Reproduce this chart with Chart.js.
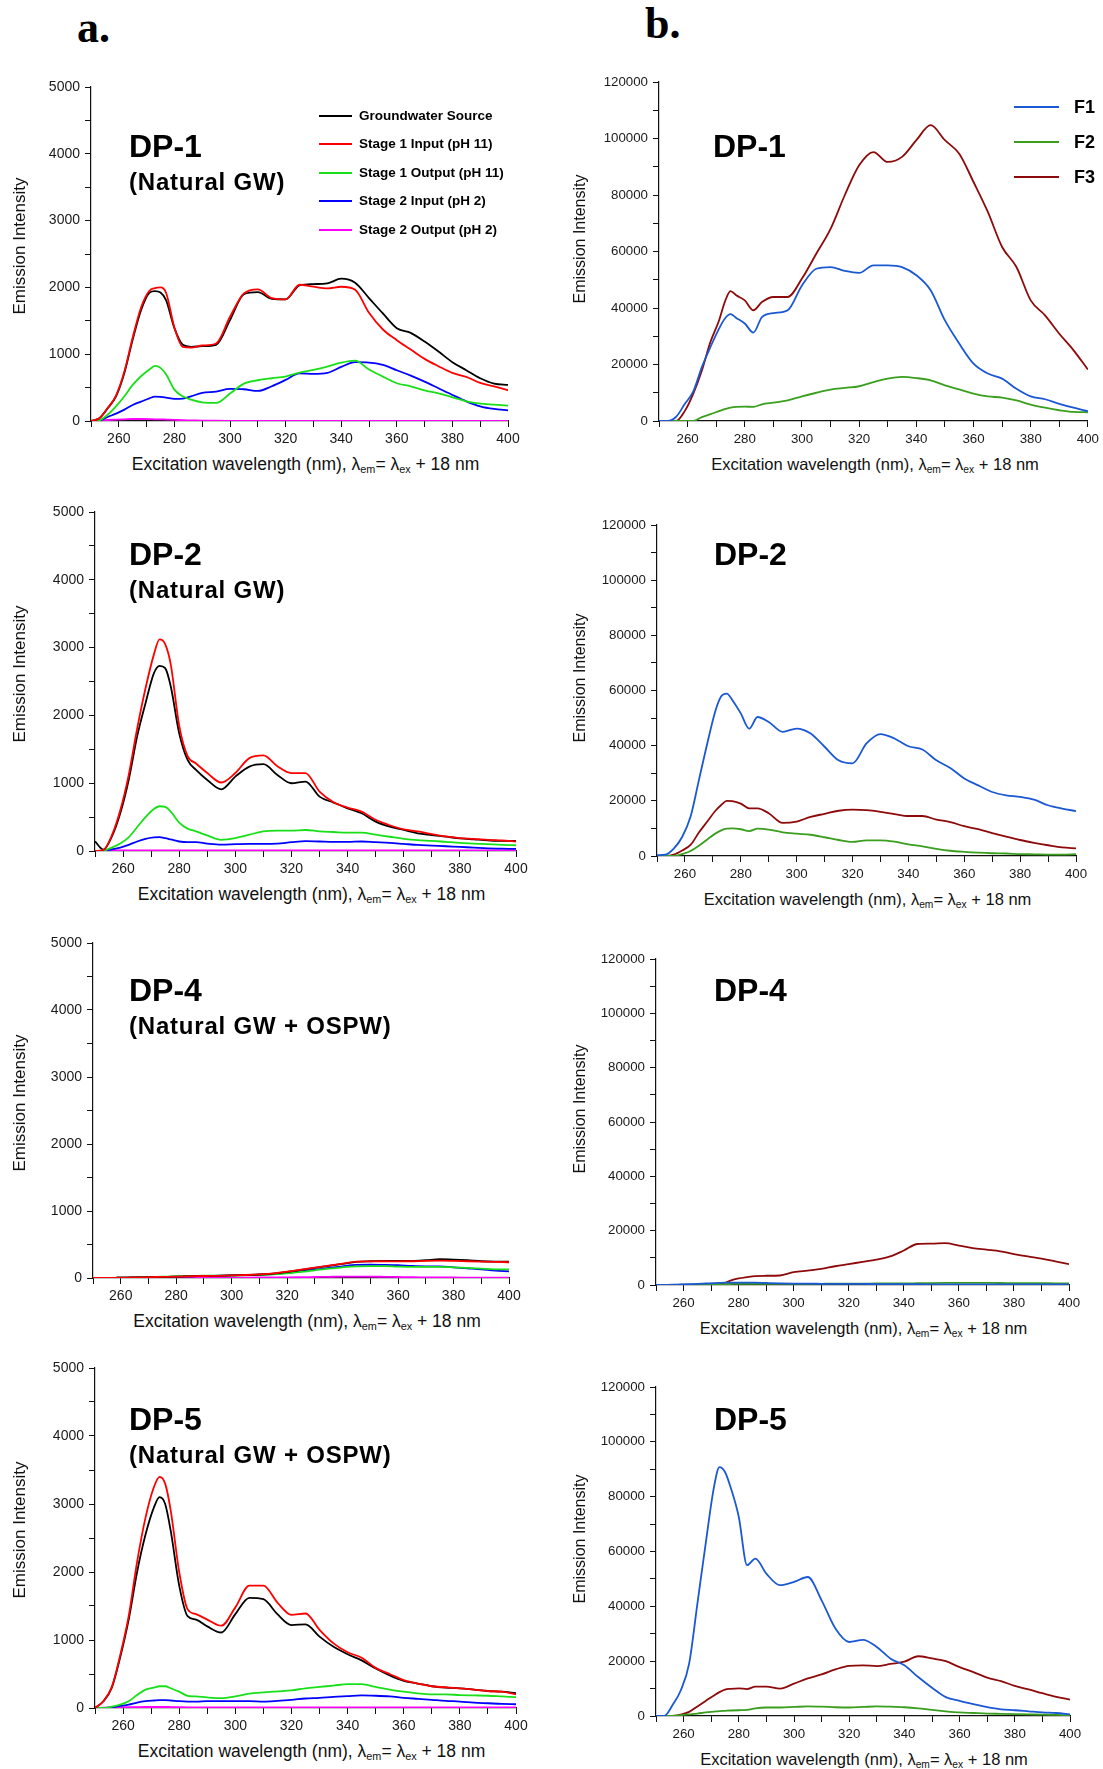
<!DOCTYPE html>
<html><head><meta charset="utf-8">
<script src="https://cdn.jsdelivr.net/npm/chart.js@4.4.0/dist/chart.umd.min.js"></script>
<style>
html,body{margin:0;padding:0;background:#fff;}
body{width:1103px;height:1769px;position:relative;overflow:hidden;font-family:"Liberation Sans",Arial,sans-serif;color:#000;}
canvas{position:absolute;}
.t{position:absolute;white-space:nowrap;}
.xt{position:absolute;white-space:nowrap;line-height:20px;color:#111;text-align:center;}
.xt sub{font-size:0.62em;vertical-align:-0.3em;line-height:0;}
.yt{position:absolute;white-space:nowrap;text-align:center;color:#111;transform:rotate(-90deg);transform-origin:50% 50%;}
.ln{position:absolute;height:2px;}
</style></head><body>
<script>
// ---------- DATA ----------
const wl = [250,253,256,259,262,265,268,271,273,275,277,280,283,286,290,295,300,305,310,315,320,325,330,335,340,345,350,355,360,365,370,375,380,385,390,395,400];
const xTicksLabelled = [260,280,300,320,340,360,380,400];
const seriesNamesA = ['Groundwater Source','Stage 1 Input (pH 11)','Stage 1 Output (pH 11)','Stage 2 Input (pH 2)','Stage 2 Output (pH 2)'];
const seriesNamesB = ['F1','F2','F3'];
const panelTitles = ['DP-1','DP-2','DP-4','DP-5'];
const panelSubtitles = ['(Natural GW)','(Natural GW)','(Natural GW + OSPW)','(Natural GW + OSPW)'];

// DP-1 (a)
const dp1_gw    = [0,40,190,370,720,1220,1660,1920,1945,1925,1810,1390,1140,1110,1120,1140,1510,1900,1930,1830,1820,2030,2050,2060,2130,2070,1840,1610,1390,1320,1190,1040,880,760,640,560,540];
const dp1_s1in  = [0,40,195,380,740,1250,1700,1950,1990,2000,1920,1400,1110,1100,1130,1160,1560,1910,1970,1840,1820,2040,2010,1985,2010,1965,1620,1370,1210,1070,930,820,720,660,570,520,460];
const dp1_s1out = [0,10,95,220,370,540,670,770,825,795,700,470,370,320,280,270,410,560,610,640,665,725,765,815,875,905,770,665,565,520,460,415,355,295,260,245,230];
const dp1_s2in  = [0,5,60,110,170,240,290,340,365,360,350,330,335,370,420,440,480,475,450,520,615,715,705,720,810,880,875,840,760,680,590,490,390,295,220,180,160];
const dp1_s2out = [0,5,15,20,25,30,30,28,25,25,22,18,12,10,6,4,3,2,2,2,2,2,2,2,2,2,2,2,2,2,2,2,2,2,2,2,2];
// DP-1 (b)
const dp1_F1 = [0,0,1500,6000,10500,19100,26200,32700,36200,37800,36500,34500,31300,36800,38200,39200,48000,53900,54500,53100,52400,55100,55100,54500,51600,46300,35600,27400,20300,16800,15000,11400,8700,7700,6100,4700,3500];
const dp1_F2 = [0,0,0,0,0,1400,2400,3500,4200,4700,5000,5100,5000,5900,6500,7300,8700,10000,11100,11700,12300,13800,15000,15600,15200,14400,12600,11200,9700,8700,8300,7300,5800,4700,3800,3200,3100];
const dp1_F3 = [0,0,0,3500,9700,17900,28000,35600,42100,46000,44500,42700,39200,42100,43900,43900,50400,59200,68000,80000,90500,95200,91700,93500,99400,104700,99400,94600,84600,74000,61600,54500,42700,37400,30900,25000,18200];

// DP-2 (a)
const dp2_gw    = [140,20,212,556,1048,1688,2180,2623,2731,2697,2426,1737,1343,1196,1048,910,1097,1245,1280,1122,999,1024,802,714,630,556,433,359,310,261,236,212,187,172,157,148,148];
const dp2_s1in  = [0,15,230,600,1120,1800,2400,2900,3120,3050,2750,1850,1400,1290,1150,1010,1150,1370,1410,1250,1150,1150,876,720,640,580,460,380,320,290,250,215,190,180,165,155,140];
const dp2_s1out = [0,5,50,110,200,350,500,620,660,650,580,420,330,290,230,165,190,240,290,300,300,310,290,280,270,270,240,210,180,160,150,135,120,110,100,90,85];
const dp2_s2in  = [0,0,25,50,90,140,180,200,205,190,170,140,130,130,110,95,100,105,105,110,130,145,140,135,135,140,130,120,105,90,80,70,60,50,40,35,30];
const dp2_s2out = [0,5,8,10,10,10,10,10,10,10,10,10,10,10,10,10,10,10,10,10,10,10,10,10,10,10,10,10,10,10,10,10,10,10,10,10,10];
// DP-2 (b)
const dp2_F1 = [300,500,2700,6900,14200,27500,40800,52900,57900,58900,56500,51700,46200,50400,48600,45000,46200,44400,39600,34700,33600,40800,44200,42600,39800,38600,34700,31900,28100,25600,23200,22000,21400,20400,18400,17200,16300];
const dp2_F2 = [0,0,0,700,1800,3700,6000,8200,9300,9900,10000,9700,9000,9900,9600,8600,8100,7700,6800,5800,5100,5700,5700,5200,4200,3500,2600,1900,1500,1200,1000,900,700,600,500,500,700];
const dp2_F3 = [0,0,500,2000,4000,8500,12500,16500,18500,20000,19900,19000,17300,17300,15500,12000,12500,14200,15300,16400,16800,16600,16000,15200,14500,14500,13200,12300,10800,9700,8300,7000,5800,4800,3900,3100,2800];

// DP-4 (a)
const dp4_gw    = [0,1,2,4,6,8,10,13,15,17,18,20,23,26,30,33,38,45,52,65,90,120,150,180,210,240,250,255,255,255,265,280,275,265,250,245,245];
const dp4_s1in  = [0,1,2,4,6,8,10,13,15,17,18,20,23,26,30,33,38,45,55,70,95,125,155,185,215,245,248,250,248,250,255,258,255,250,245,240,235];
const dp4_s1out = [0,1,2,4,6,9,12,16,18,20,22,25,28,31,35,35,35,40,45,55,70,90,115,140,160,175,178,178,170,165,165,165,160,150,140,130,128];
const dp4_s2in  = [0,1,2,4,6,8,10,13,15,17,18,20,23,26,30,34,38,44,50,60,75,100,125,150,175,195,198,195,190,180,175,175,160,145,130,110,100];
const dp4_s2out = [0,0,1,1,2,2,3,3,3,4,4,4,5,5,5,6,6,7,8,9,10,12,15,18,20,20,20,18,15,12,10,8,8,6,5,5,5];
// DP-4 (b)
const dp4_F1 = [0,50,100,200,300,400,550,700,780,850,880,900,900,880,750,600,500,480,450,420,400,380,350,330,300,280,250,230,200,200,200,200,200,200,200,200,200];
const dp4_F2 = [0,30,60,100,150,200,250,300,330,350,370,400,400,400,400,400,400,420,450,470,500,520,550,570,600,650,700,750,800,780,760,740,700,680,650,620,600];
const dp4_F3 = [0,0,0,0,0,0,0,0,300,800,1600,2400,2900,3300,3400,3500,4700,5300,5900,6900,7700,8500,9300,10500,12700,15100,15200,15400,14500,13600,13000,12400,11400,10500,9700,8700,7700];

// DP-5 (a)
const dp5_gw    = [0,100,300,750,1300,2000,2550,2950,3100,3000,2600,1800,1350,1300,1200,1110,1380,1620,1600,1380,1220,1230,1050,900,790,700,580,480,400,360,320,300,290,270,250,240,220];
const dp5_s1in  = [0,100,310,780,1350,2150,2800,3250,3400,3300,2900,2000,1450,1380,1300,1210,1480,1800,1800,1550,1370,1390,1150,950,820,740,590,500,410,360,320,305,290,270,250,240,200];
const dp5_s1out = [0,0,20,50,100,190,270,300,320,320,290,240,180,170,155,145,170,210,230,245,260,290,310,330,350,350,310,270,240,215,200,200,190,185,180,170,160];
const dp5_s2in  = [0,0,10,30,50,80,100,110,115,115,110,100,95,95,100,100,100,100,95,105,120,140,150,165,175,185,180,170,150,135,120,105,95,80,70,60,55];
const dp5_s2out = [0,5,8,10,12,14,15,15,15,15,14,12,10,10,10,10,10,10,10,10,10,10,10,10,10,10,10,10,10,10,10,10,10,10,10,10,10];
// DP-5 (b)
const dp5_F1 = [0,0,4000,9400,19100,41000,62900,83500,90800,89000,83500,72600,55000,57400,51900,47700,48900,50700,42200,31900,27000,27800,25200,20900,18500,14200,10300,6900,5500,4300,3200,2400,2100,1700,1300,1100,600];
const dp5_F2 = [0,0,0,300,600,900,1300,1600,1800,1900,2000,2100,2200,2800,3100,3100,3300,3500,3400,3200,3100,3300,3500,3400,3200,2800,2200,1700,1300,1100,900,800,700,600,500,400,300];
const dp5_F3 = [0,0,0,500,1500,3500,5500,7500,8700,9600,9900,10100,9800,10700,10700,10000,11800,13700,15200,17000,18300,18500,18200,19000,19800,21800,21000,20000,17800,16000,14000,12700,11000,9700,8300,7000,6000];

// ---------- STYLE / LAYOUT ----------
const colorsA = ['#000000','#ff0000','#18e018','#0000ff','#ff00ff'];
const colorsB = ['#1a58d4','#3a9e1e','#8e0a0a'];

const panels = [
  {col:'a', series:[dp1_gw,dp1_s1in,dp1_s1out,dp1_s2in,dp1_s2out], box:{l:91,r:508,t:87,b:421}, ti:0, lab:157},
  {col:'b', series:[dp1_F1,dp1_F2,dp1_F3], box:{l:659,r:1089,t:82,b:421}, ti:0, lab:157},
  {col:'a', series:[dp2_gw,dp2_s1in,dp2_s1out,dp2_s2in,dp2_s2out], box:{l:95,r:516,t:512,b:851}, ti:1, lab:565},
  {col:'b', series:[dp2_F1,dp2_F2,dp2_F3], box:{l:657,r:1076,t:525,b:856}, ti:1, lab:565},
  {col:'a', series:[dp4_gw,dp4_s1in,dp4_s1out,dp4_s2in,dp4_s2out], box:{l:93,r:509,t:943,b:1278}, ti:2, lab:1001},
  {col:'b', series:[dp4_F1,dp4_F2,dp4_F3], box:{l:656,r:1069,t:959,b:1285}, ti:2, lab:1001},
  {col:'a', series:[dp5_gw,dp5_s1in,dp5_s1out,dp5_s2in,dp5_s2out], box:{l:95,r:516,t:1368,b:1708}, ti:3, lab:1430},
  {col:'b', series:[dp5_F1,dp5_F2,dp5_F3], box:{l:656,r:1070,t:1387,b:1716}, ti:3, lab:1430}
];

function addText(html, x, baseline, fs, weight, family, extra){
  const d = document.createElement('div');
  d.className = 't';
  d.style.left = x + 'px';
  d.style.top = (baseline - 0.8465*fs) + 'px';
  d.style.fontSize = fs + 'px';
  d.style.lineHeight = fs + 'px';
  d.style.fontWeight = weight;
  if (family) d.style.fontFamily = family;
  if (extra) Object.assign(d.style, extra);
  d.innerHTML = html;
  document.body.appendChild(d);
  return d;
}

panels.forEach((p, idx) => {
  const isB = p.col === 'b';
  const cL = isB ? 550 : 0, cW = isB ? 553 : 550;
  const cT = p.box.t - 16, cB = p.box.b + 32, cH = cB - cT;
  const cv = document.createElement('canvas');
  cv.width = cW; cv.height = cH;
  cv.style.left = cL + 'px'; cv.style.top = cT + 'px';
  cv.style.width = cW + 'px'; cv.style.height = cH + 'px';
  document.body.appendChild(cv);

  const names = isB ? seriesNamesB : seriesNamesA;
  const cols = isB ? colorsB : colorsA;
  const datasets = p.series.map((arr, i) => ({
    label: names[i],
    data: wl.map((x, k) => ({x: x, y: arr[k]})),
    borderColor: cols[i],
    backgroundColor: cols[i],
    borderWidth: 1.8,
    pointRadius: 0,
    fill: false,
    cubicInterpolationMode: 'monotone',
    order: isB ? i : (i === 1 ? 0 : i + 1)
  }));
  const yMax = isB ? 120000 : 5000;
  const yStep = isB ? 10000 : 500;
  const yLab = isB ? 20000 : 1000;
  const yAxisW = p.box.l - cL;
  const xAxisH = cB - p.box.b;
  const tickFont = {family:'"Liberation Sans", Arial, sans-serif', size: isB ? 13.3 : 14};

  new Chart(cv, {
    type: 'line',
    data: {datasets},
    options: {
      responsive: false,
      animation: false,
      devicePixelRatio: 1,
      layout: {padding: {left: 0, top: p.box.t - cT, right: (cL + cW) - p.box.r, bottom: 0}},
      plugins: {legend: {display: false}, tooltip: {enabled: false}, title: {display: false}},
      scales: {
        x: {
          type: 'linear', min: 250, max: 400,
          afterFit: s => { s.height = xAxisH; },
          border: {display: true, color: '#111', width: 1.2},
          grid: {display: true, drawOnChartArea: false, drawTicks: true, tickLength: 6, color: '#111', lineWidth: 1},
          ticks: {stepSize: 10, autoSkip: false, maxRotation: 0, minRotation: 0, maxTicksLimit: 100, padding: 4,
                  color: '#1a1a1a', font: tickFont,
                  callback: v => xTicksLabelled.includes(v) ? String(v) : ''}
        },
        y: {
          type: 'linear', min: 0, max: yMax,
          afterFit: s => { s.width = yAxisW; },
          border: {display: true, color: '#111', width: 1.2},
          grid: {display: true, drawOnChartArea: false, drawTicks: true, tickLength: 6, color: '#111', lineWidth: 1},
          ticks: {stepSize: yStep, autoSkip: false, maxTicksLimit: 100, padding: 5, color: '#1a1a1a', font: tickFont,
                  callback: v => (v % yLab === 0) ? String(v) : ''},
          title: {display: false}
        }
      }
    }
  });

  // x-axis title with subscripts
  const xt = document.createElement('div');
  xt.className = 'xt';
  xt.style.fontSize = (isB ? 16.5 : 17.5) + 'px';
  xt.innerHTML = 'Excitation wavelength (nm), &lambda;<sub>em</sub>= &lambda;<sub>ex</sub> + 18 nm';
  document.body.appendChild(xt);
  const cx = (p.box.l + p.box.r) / 2 + (isB ? 1 : 6);
  xt.style.top = (p.box.b + 33) + 'px';
  xt.style.left = (cx - 220) + 'px';
  xt.style.width = '440px';

  // y-axis title (rotated)
  const yt = document.createElement('div');
  yt.className = 'yt';
  const yfs = isB ? 16 : 17;
  yt.style.fontSize = yfs + 'px';
  yt.style.lineHeight = '20px';
  yt.style.width = '200px';
  yt.textContent = 'Emission Intensity';
  const ycx = isB ? 580 : 19.7;
  const ycy = (p.box.t + p.box.b) / 2 + (isB ? -13 : -8);
  yt.style.left = (ycx - 100) + 'px';
  yt.style.top = (ycy - 10) + 'px';
  document.body.appendChild(yt);

  // panel label
  const tx = isB ? (idx === 1 ? 713 : 714) : 129;
  addText(panelTitles[p.ti], tx, p.lab, 32, 'bold', null);
  if (!isB) addText(panelSubtitles[p.ti], 129, p.lab + 33, 24, 'bold', null, {letterSpacing: '0.8px'});
});

// column letters
addText('a.', 77, 43, 44, 'bold', '"Liberation Serif", "Times New Roman", serif');
addText('b.', 645, 39, 44, 'bold', '"Liberation Serif", "Times New Roman", serif');

// legend (a)
const legAy = [116,144,173,201,230];
seriesNamesA.forEach((n, i) => {
  const l = document.createElement('div');
  l.className = 'ln';
  l.style.left = '319px'; l.style.width = '33px';
  l.style.top = (legAy[i] - 1) + 'px';
  l.style.background = colorsA[i];
  document.body.appendChild(l);
  addText(n, 359, legAy[i] + 4.8, 13.5, 'bold', null);
});
// legend (b)
const legBy = [107,142,177];
seriesNamesB.forEach((n, i) => {
  const l = document.createElement('div');
  l.className = 'ln';
  l.style.left = '1014px'; l.style.width = '45px';
  l.style.top = (legBy[i] - 1) + 'px';
  l.style.background = colorsB[i];
  document.body.appendChild(l);
  addText(n, 1074, legBy[i] + 6.5, 18, 'bold', null);
});
</script>
</body></html>
